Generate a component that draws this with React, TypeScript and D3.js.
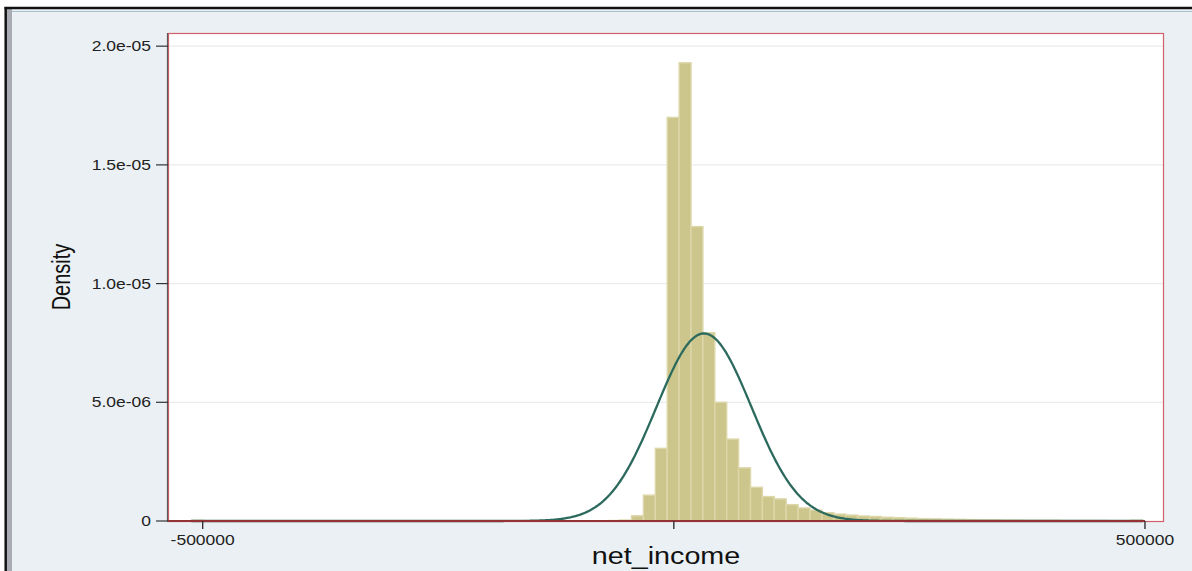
import React from "react";
import * as d3 from "d3";

// Histogram of net_income: bins of equal width starting at binStart
const binStart = -512000;
const binWidth = 12625;
const densities: number[] = [
  3e-8, 0, 0, 0, 0, 0, 0, 0, 0, 0,
  0, 0, 0, 0, 0, 0, 0, 0, 0, 0,
  0, 0, 0, 0, 0, 0, 0, 0, 2e-8, 2e-8,
  2e-8, 1e-8, 1e-8, 1e-8, 1e-8, 2e-8, 4e-8, 2.2e-7, 1.09e-6, 3.06e-6,
  1.7e-5, 1.93e-5, 1.24e-5, 7.93e-6, 5.0e-6, 3.45e-6, 2.24e-6, 1.42e-6, 1.03e-6, 9.3e-7,
  6.9e-7, 5.5e-7, 4.6e-7, 3.5e-7, 2.9e-7, 2.5e-7, 2.1e-7, 1.9e-7, 1.6e-7, 1.4e-7,
  1.2e-7, 1.0e-7, 9e-8, 8e-8, 7e-8, 6e-8, 5e-8, 5e-8, 4e-8, 4e-8,
  3e-8, 3e-8, 3e-8, 2e-8, 2e-8, 2e-8, 2e-8, 1e-8, 1e-8, 3e-8,
];

// Overlaid normal density
const normMean = 32000;
const normSd = 50500;

const yTicks = [0, 5e-6, 1e-5, 1.5e-5, 2e-5];
const yTickLabels = ["0", "5.0e-06", "1.0e-05", "1.5e-05", "2.0e-05"];
const xTicks = [-500000, 0, 500000];
const xTickLabels = ["-500000", "", "500000"];

const W = 1192;
const H = 571;
const plot = { left: 168, right: 1164, top: 33, bottom: 521 };
const FONT = "'Liberation Sans', Arial, Helvetica, sans-serif";
const SX = 1.25; // horizontal stretch of the rendered text

export default function App() {
  const x = d3.scaleLinear().domain([-536800, 520200]).range([plot.left, plot.right]);
  const y = d3.scaleLinear().domain([0, 2.0555e-5]).range([plot.bottom, plot.top]);

  const dataMin = binStart;
  const dataMax = binStart + densities.length * binWidth;
  const normPdf = (v: number) =>
    Math.exp(-0.5 * ((v - normMean) / normSd) ** 2) / (normSd * Math.sqrt(2 * Math.PI));
  const curvePts = d3.range(0, 801).map((i) => dataMin + ((dataMax - dataMin) * i) / 800);
  const line = d3
    .line<number>()
    .x((v) => x(v))
    .y((v) => y(normPdf(v)))
    .curve(d3.curveLinear);

  return (
    <div style={{ position: "fixed", left: 0, top: 0 }}>
      <svg width={W} height={H} style={{ display: "block", background: "#ffffff" }}>
        {/* window frame */}
        <rect x={6} y={8} width={W - 6} height={H - 8} fill="#EAF0F3" />
        <rect x={7} y={9} width={5} height={H - 9} fill="#A9ACB2" />
        <line x1={12} x2={W} y1={11.5} y2={11.5} stroke="#A9C0CE" strokeWidth={1} />
        <line x1={4.5} x2={W} y1={8} y2={8} stroke="#111" strokeWidth={2.5} />
        <line x1={5.7} x2={5.7} y1={7} y2={H} stroke="#111" strokeWidth={2.5} />

        {/* plot region */}
        <rect
          x={plot.left}
          y={plot.top}
          width={plot.right - plot.left}
          height={plot.bottom - plot.top}
          fill="#ffffff"
        />
        {yTicks.slice(1).map((t) => (
          <line
            key={t}
            x1={plot.left}
            x2={plot.right}
            y1={y(t)}
            y2={y(t)}
            stroke="#EAECED"
            strokeWidth={1.2}
          />
        ))}

        {/* histogram bars */}
        {densities.map((d, i) => {
          if (d <= 0) return null;
          const x0 = x(binStart + i * binWidth);
          const x1 = x(binStart + (i + 1) * binWidth);
          const top = y(d);
          return (
            <rect
              key={i}
              x={x0}
              y={top}
              width={x1 - x0}
              height={plot.bottom - top}
              fill="#CDC68C"
              stroke="#DDD7AA"
              strokeWidth={1.4}
            />
          );
        })}

        {/* normal density */}
        <path d={line(curvePts) || ""} fill="none" stroke="#2D6A5E" strokeWidth={2.3} />

        {/* frame and axes */}
        <rect
          x={plot.left + 0.5}
          y={plot.top + 0.5}
          width={plot.right - plot.left - 1}
          height={plot.bottom - plot.top}
          fill="none"
          stroke="#D0606A"
          strokeWidth={1.2}
        />
        <line
          x1={plot.left}
          x2={x(xTicks[xTicks.length - 1])}
          y1={plot.bottom}
          y2={plot.bottom}
          stroke="#953236"
          strokeWidth={2}
        />
        <line
          x1={plot.left - 0.5}
          x2={plot.left - 0.5}
          y1={plot.top}
          y2={plot.bottom + 1}
          stroke="#5A5A5A"
          strokeWidth={1.2}
        />

        {/* y axis */}
        {yTicks.map((t, i) => (
          <g key={t}>
            <line
              x1={plot.left - 12}
              x2={plot.left}
              y1={y(t)}
              y2={y(t)}
              stroke="#333"
              strokeWidth={1.2}
            />
            <text
              transform={`translate(${plot.left - 17},${y(t)}) scale(${SX},1)`}
              textAnchor="end"
              dy="0.36em"
              fontFamily={FONT}
              fontSize={14}
              fill="#222"
            >
              {yTickLabels[i]}
            </text>
          </g>
        ))}
        <text
          transform={`translate(70,${(plot.top + plot.bottom) / 2}) scale(${SX},1) rotate(-90)`}
          textAnchor="middle"
          fontFamily={FONT}
          fontSize={20}
          fill="#111"
        >
          Density
        </text>

        {/* x axis */}
        {xTicks.map((t, i) => (
          <g key={t}>
            <line
              x1={x(t)}
              x2={x(t)}
              y1={plot.bottom}
              y2={plot.bottom + 8}
              stroke="#333"
              strokeWidth={1.4}
            />
            {xTickLabels[i] && (
              <text
                transform={`translate(${x(t)},${plot.bottom + 24}) scale(${SX},1)`}
                textAnchor="middle"
                fontFamily={FONT}
                fontSize={14}
                fill="#222"
              >
                {xTickLabels[i]}
              </text>
            )}
          </g>
        ))}
        <text
          transform={`translate(${(plot.left + plot.right) / 2},${plot.bottom + 43}) scale(${SX},1)`}
          textAnchor="middle"
          fontFamily={FONT}
          fontSize={23}
          fill="#111"
        >
          net_income
        </text>
      </svg>
    </div>
  );
}
